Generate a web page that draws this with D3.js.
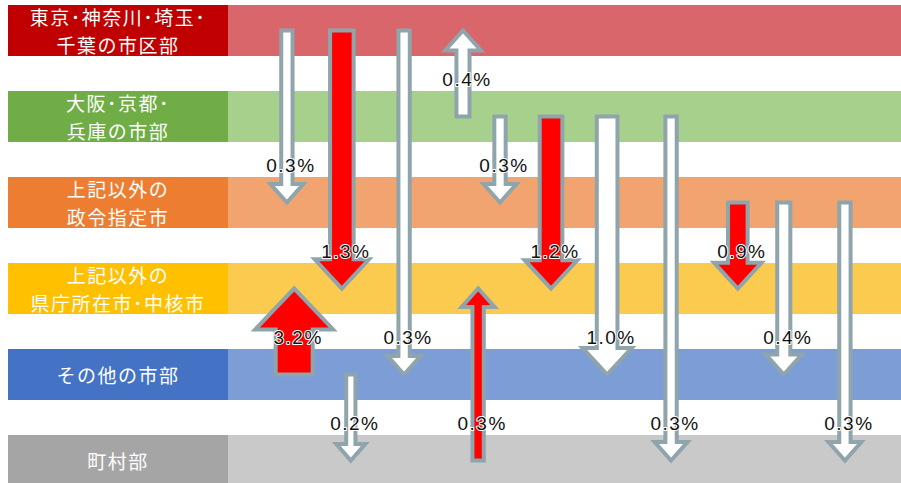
<!DOCTYPE html>
<html>
<head>
<meta charset="utf-8">
<script src="https://cdn.jsdelivr.net/npm/d3@7"></script>
<style>
    body { margin: 0; background: #fff; }
    svg { display: block; }
</style>
</head>
<body>
<div id="chart"></div>
<script>

// tiers, top to bottom
var tierLines = [
    ["東京･神奈川･埼玉･", "千葉の市区部"],
    ["大阪･京都･", "兵庫の市部"],
    ["上記以外の", "政令指定市"],
    ["上記以外の", "県庁所在市･中核市"],
    ["その他の市部"],
    ["町村部"]
];

// flows between tiers (index into tierLines)
var flowFrom  = [0, 0, 0, 1, 1, 1, 1, 1, 2, 2, 2, 4, 4, 5];
var flowTo    = [2, 3, 4, 0, 2, 3, 4, 5, 3, 4, 5, 3, 5, 3];
var flowValue = [0.3, 1.3, 0.3, 0.4, 0.3, 1.2, 1.0, 0.3, 0.9, 0.4, 0.3, 3.2, 0.2, 0.3];
// horizontal slot of each arrow
var flowCol   = [1.05, 2.03, 3.14, 4.19, 4.85, 5.76, 6.76, 7.9, 9.09, 9.91, 11.0, 1.18, 2.19, 4.46];

var highlightTier = 3;

// colours
var labelColors = ["#C00000", "#70AD47", "#ED7D31", "#FFC000", "#4472C4", "#A5A5A5"];
var bandColors  = ["#D8666A", "#A8D08D", "#F1A46F", "#FACB4E", "#7C9DD6", "#C9C9C9"];

var width = 901,
    height = 483,
    labelX0 = 8,
    labelX1 = 228;

var svg = d3.select("#chart").append("svg")
    .attr("width", width)
    .attr("height", height);

var yScale = d3.scaleBand()
    .domain(d3.range(tierLines.length))
    .range([5, 486])
    .paddingInner(0.407)
    .paddingOuter(0);

var xScale = d3.scaleLinear()
    .domain([0, 12])
    .range([labelX1, width]);

var wScale = d3.scaleSqrt()
    .domain([0, 3.2])
    .range([0, 37]);

var fmt = d3.format(".1f");

function mid(i) {
    return yScale(i) + yScale.bandwidth() / 2;
}

// bands
var tiers = svg.append("g").selectAll("g")
    .data(tierLines)
    .enter()
    .append("g");

tiers.append("rect")
    .attr("x", labelX1)
    .attr("y", function (d, i) { return yScale(i); })
    .attr("width", width - labelX1)
    .attr("height", yScale.bandwidth())
    .style("fill", function (d, i) { return bandColors[i]; });

tiers.append("rect")
    .attr("x", labelX0)
    .attr("y", function (d, i) { return yScale(i); })
    .attr("width", labelX1 - labelX0)
    .attr("height", yScale.bandwidth())
    .style("fill", function (d, i) { return labelColors[i]; });

// one text per line
tiers.each(function (lines, i) {
    var g = d3.select(this);
    lines.forEach(function (txt, j) {
        g.append("text")
            .attr("x", (labelX0 + labelX1) / 2)
            .attr("y", mid(i) + (j - (lines.length - 1) / 2) * 28)
            .attr("text-anchor", "middle")
            .attr("dominant-baseline", "central")
            .style("font-family", "'Noto Sans CJK JP', sans-serif")
            .style("font-size", "19px")
            .style("letter-spacing", "1.5px")
            .style("fill", "#fff")
            .text(txt);
    });
});

// arrows
var flows = flowValue.map(function (v, i) {
    return { from: flowFrom[i], to: flowTo[i], value: v, col: flowCol[i] };
});

var line = d3.line().curve(d3.curveLinearClosed);

function arrowPoints(d) {
    var x = xScale(d.col),
        y0 = mid(d.from),
        y1 = mid(d.to),
        dir = y1 > y0 ? 1 : -1,
        w = wScale(d.value),
        hw = w * 1.75 + 13,
        hl = hw * 0.5 + 2,
        ys = y1 - dir * hl;
    return [
        [x - w / 2, y0], [x + w / 2, y0], [x + w / 2, ys], [x + hw / 2, ys],
        [x, y1], [x - hw / 2, ys], [x - w / 2, ys]
    ];
}

svg.append("g").selectAll("path")
    .data(flows)
    .enter()
    .append("path")
    .attr("d", function (d) { return line(arrowPoints(d)); })
    .style("fill", function (d) { return d.to === highlightTier ? "#FF0000" : "#fff"; })
    .style("stroke", "#8FA4AB")
    .style("stroke-width", 4)
    .style("stroke-linejoin", "miter");

// percentage labels sit in the gap above the lower tier
svg.append("g").selectAll("text")
    .data(flows)
    .enter()
    .append("text")
    .attr("x", function (d) { return xScale(d.col) + 4; })
    .attr("y", function (d) { return yScale(Math.max(d.from, d.to)) - 12; })
    .attr("text-anchor", "middle")
    .attr("dominant-baseline", "central")
    .style("font-family", "'Liberation Sans', Arial, sans-serif")
    .style("font-size", "19px")
    .style("letter-spacing", "1.5px")
    .style("fill", "#111")
    .style("stroke", "#fff")
    .style("stroke-width", 2)
    .style("paint-order", "stroke")
    .style("stroke-linejoin", "round")
    .text(function (d) { return fmt(d.value) + "%"; });

</script>
</body>
</html>
